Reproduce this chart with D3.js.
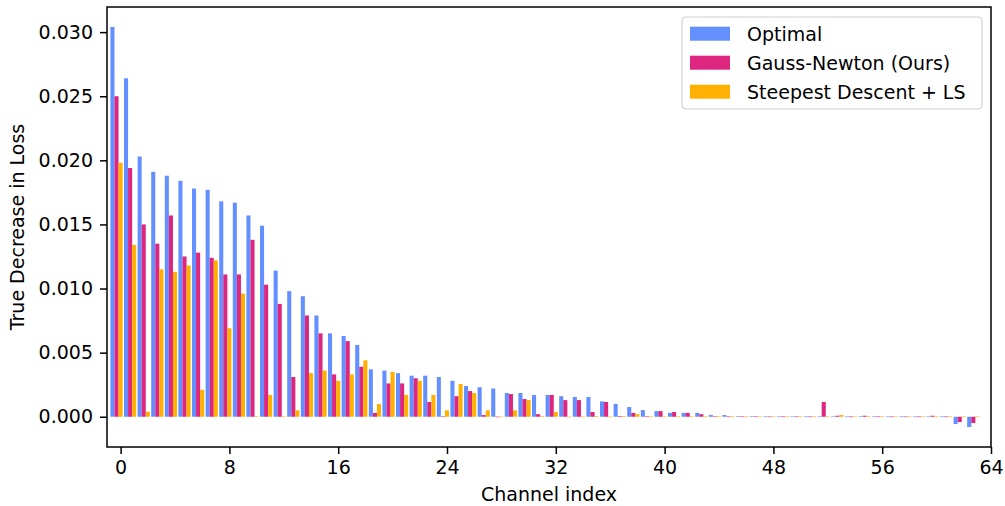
<!DOCTYPE html>
<html>
<head>
<meta charset="utf-8">
<script src="https://cdn.jsdelivr.net/npm/d3@7"></script>
<style>
  body { margin: 0; background: #fff; }
  svg { display: block; font-family: "DejaVu Sans", sans-serif; }
</style>
</head>
<body>
<svg id="chart" width="1005" height="506"></svg>
<script>
// channel values
const optimal = [
  0.0304, 0.0264, 0.0203, 0.0191, 0.0188, 0.0184, 0.0178, 0.0177, 0.0168, 0.0167,
  0.0157, 0.0149, 0.0114, 0.0098, 0.0094, 0.0079, 0.0065, 0.0063, 0.0056, 0.0037,
  0.0036, 0.0034, 0.0032, 0.0032, 0.0031, 0.0028, 0.0024, 0.0023, 0.0022, 0.00185,
  0.00185, 0.0017, 0.0017, 0.0016, 0.00154, 0.00154, 0.0012, 0.0010, 0.00076, 0.00052,
  0.00044, 0.0003, 0.0003, 0.0003, 0.00013, 0.00013, 0.00003, 0.00003, 0.00002, 0.00002,
  0.00002, 0.00002, 0.00002, 0.00002, 0.00002, 0.00002, 0.00002, 0.00002, 0.00002, 0.00002,
  0.00002, 0.00002, -0.00057, -0.0008
];
const gaussNewton = [
  0.0250, 0.0194, 0.0150, 0.0135, 0.0157, 0.0125, 0.0128, 0.0124, 0.0111, 0.0111,
  0.0138, 0.0103, 0.0088, 0.0031, 0.0079, 0.0065, 0.0033, 0.0059, 0.0039, 0.0003,
  0.0026, 0.0026, 0.0030, 0.00115, 0.00002, 0.0016, 0.0020, 0.00013, 0.00001, 0.00177,
  0.00138, 0.0002, 0.0017, 0.0013, 0.0013, 0.00037, 0.00115, 0.00005, 0.0003, 0.00002,
  0.00044, 0.00037, 0.0003, 0.0002, 0.00002, 0.00002, 0.00002, 0.00002, 0.00002, 0.00002,
  0.00002, 0.00002, 0.00115, 0.00008, 0.00002, 0.00008, 0.00002, 0.00002, 0.00002, 0.00002,
  0.00008, 0.00002, -0.00041, -0.00049
];
const steepest = [
  0.0198, 0.0134, 0.0004, 0.0115, 0.0113, 0.0118, 0.0021, 0.0122, 0.0069, 0.0096,
  0.00003, 0.0017, 0.00002, 0.0005, 0.0034, 0.0036, 0.0028, 0.0033, 0.0044, 0.0010,
  0.0035, 0.0017, 0.0028, 0.0017, 0.0005, 0.00255, 0.00185, 0.0005, 0.00001, 0.0005,
  0.0013, 0.00005, 0.00037, 0.00001, 0.00001, 0.00005, 0.00001, 0.00005, 0.0002, 0.00002,
  0.00002, 0.00002, 0.00002, 0.00002, 0.00002, 0.00002, 0.00002, 0.00002, 0.00002, 0.00002,
  0.00002, 0.00002, 0.00002, 0.00013, 0.00002, 0.00002, 0.00002, 0.00002, 0.00002, 0.00002,
  0.00002, 0.00002, 0.00002, 0.00002
];
const seriesNames = ["Optimal", "Gauss-Newton (Ours)", "Steepest Descent + LS"];
const seriesColors = ["#648FFF", "#DC267F", "#FFB000"];
const xTicks = [0, 8, 16, 24, 32, 40, 48, 56, 64];
const yTicks = [0, 0.005, 0.010, 0.015, 0.020, 0.025, 0.030];

const svg = d3.select("#chart");
const W = 1005, H = 506;
const margin = { top: 7, right: 14, bottom: 59, left: 107 };
const iw = W - margin.left - margin.right;
const ih = H - margin.top - margin.bottom;

const all = optimal.concat(gaussNewton, steepest);
const lo = d3.min(all), hi = d3.max(all);
const pad = (hi - lo) * 0.05;

const x = d3.scaleLinear().domain([-1, 64]).range([0, iw]);
const y = d3.scaleLinear().domain([lo - pad, hi + pad]).range([ih, 0]);

const g = svg.append("g").attr("transform", `translate(${margin.left},${margin.top})`);

const barW = 0.3;
const offsets = [-0.6, -0.3, 0];
[optimal, gaussNewton, steepest].forEach((vals, si) => {
  g.append("g").selectAll("rect")
    .data(vals)
    .join("rect")
    .attr("x", (d, i) => x(i + offsets[si] - barW / 2))
    .attr("width", (d, i) => x(i + offsets[si] + barW / 2) - x(i + offsets[si] - barW / 2))
    .attr("y", d => Math.min(y(d), y(0)))
    .attr("height", d => Math.max(Math.abs(y(d) - y(0)), 0.6))
    .attr("fill", seriesColors[si]);
});

// axes
const xAxis = g.append("g")
  .attr("transform", `translate(0,${ih})`)
  .call(d3.axisBottom(x).tickValues(xTicks).tickFormat(d3.format("d")).tickSize(7).tickPadding(7).tickSizeOuter(0));
const yAxis = g.append("g")
  .call(d3.axisLeft(y).tickValues(yTicks).tickFormat(d3.format(".3f")).tickSize(7).tickPadding(7).tickSizeOuter(0));

[xAxis, yAxis].forEach(a => {
  a.select(".domain").remove();
  a.selectAll("line").attr("stroke", "#000").attr("stroke-width", 1.5);
  a.selectAll("text").attr("fill", "#000").style("font-size", "19px").style("font-family", "DejaVu Sans, sans-serif");
});

// spines
g.append("rect")
  .attr("width", iw).attr("height", ih)
  .attr("fill", "none").attr("stroke", "#000").attr("stroke-width", 1.5);

// axis titles
svg.append("text")
  .attr("x", margin.left + iw / 2).attr("y", 501)
  .attr("text-anchor", "middle")
  .style("font-size", "19px")
  .text("Channel index");
svg.append("text")
  .attr("transform", `translate(24,${margin.top + ih / 2}) rotate(-90)`)
  .attr("text-anchor", "middle")
  .style("font-size", "19px")
  .text("True Decrease in Loss");

// legend
const lg = svg.append("g").attr("transform", "translate(682,17)");
lg.append("rect")
  .attr("width", 300).attr("height", 92).attr("rx", 4)
  .attr("fill", "#fff").attr("fill-opacity", 0.8)
  .attr("stroke", "#d0d0d0").attr("stroke-width", 1.2);
seriesNames.forEach((name, i) => {
  const cy = 16.7 + i * 29;
  lg.append("rect")
    .attr("x", 8).attr("y", cy - 7).attr("width", 40).attr("height", 14)
    .attr("fill", seriesColors[i]);
  lg.append("text")
    .attr("x", 65).attr("y", cy + 7)
    .style("font-size", "19px")
    .text(name);
});
</script>
</body>
</html>
